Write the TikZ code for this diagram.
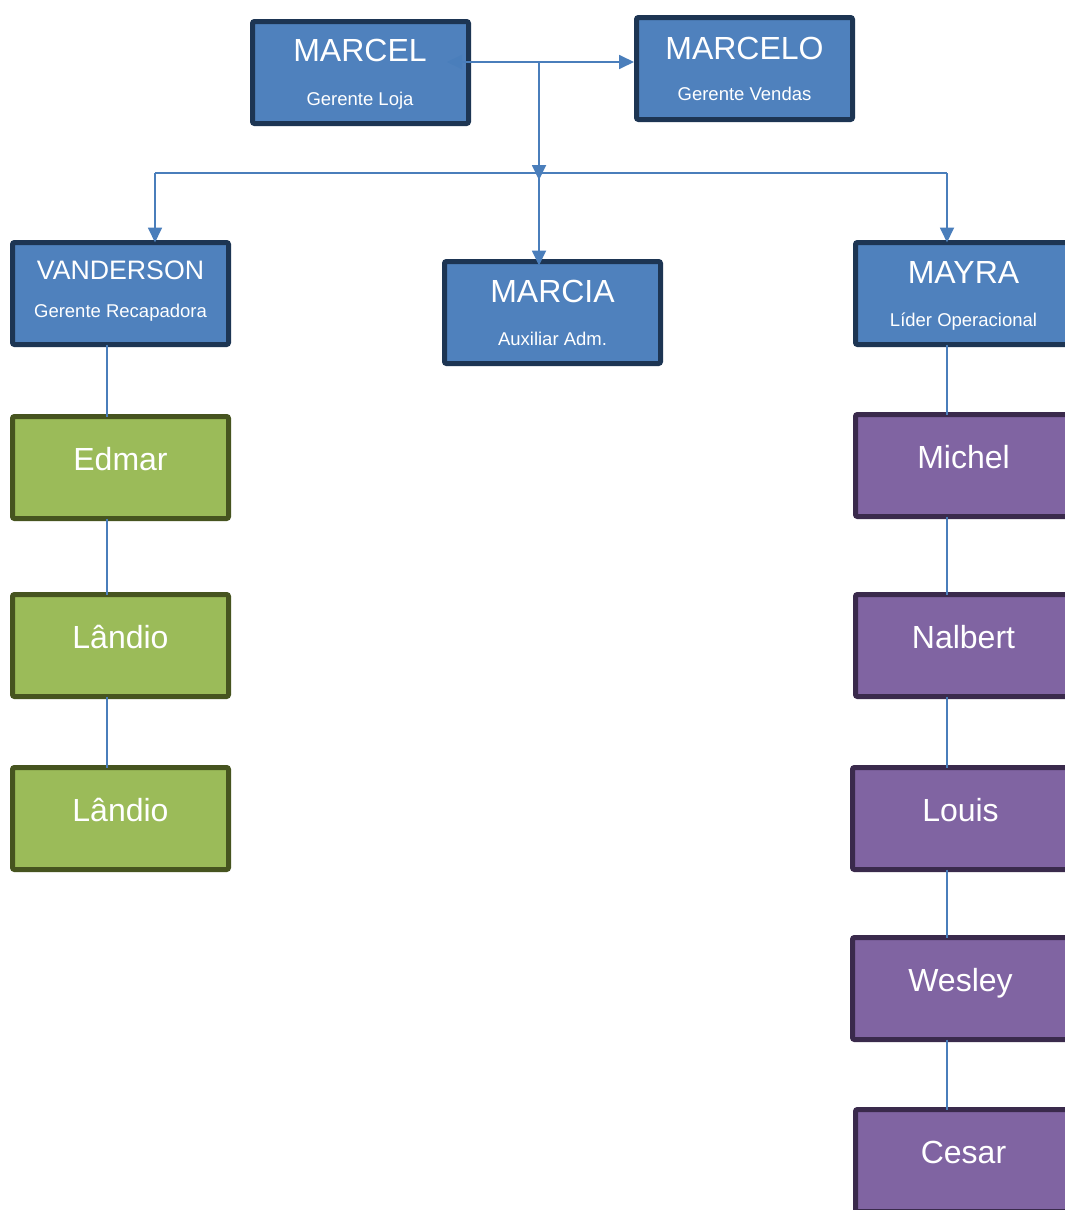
\documentclass[tikz,border=0pt]{standalone}
\usepackage{fontspec}
\setmainfont{Liberation Sans}
\usetikzlibrary{arrows.meta}
\definecolor{bfill}{HTML}{4F81BD}
\definecolor{bline}{HTML}{1D3553}
\definecolor{gfill}{HTML}{9BBB59}
\definecolor{gline}{HTML}{46541F}
\definecolor{pfill}{HTML}{8064A2}
\definecolor{pline}{HTML}{3A2A4C}
\definecolor{conn}{HTML}{4A7EBB}
\tikzset{
  box/.style={rectangle, rounded corners=2pt, line width=5pt, minimum width=216pt, minimum height=102pt, inner sep=0pt, outer sep=0pt, anchor=north west},
  bluebox/.style={box, fill=bfill, draw=bline},
  greenbox/.style={box, fill=gfill, draw=gline},
  purplebox/.style={box, fill=pfill, draw=pline},
  nametxt/.style={text=white, font=\fontsize{32}{36}\selectfont, anchor=base, inner sep=0pt},
  subtxt/.style={text=white, font=\fontsize{18.5}{22}\selectfont, anchor=base, inner sep=0pt},
  link/.style={draw=conn, line width=1.8pt},
  arr/.style={link, -{Triangle[length=15pt,width=14pt]}},
}
\begin{document}
\begin{tikzpicture}[x=1pt,y=-1pt]
\useasboundingbox (0,0) rectangle (1065,1210);
\clip (0,0) rectangle (1065,1210);
\fill[white] (0,0) rectangle (1065,1210);

% coordinates for connectors
\coordinate (lx) at (107,0);
\coordinate (rx) at (947,0);
\coordinate (j1) at (539,62);
\coordinate (mtip) at (447,62);
\coordinate (j2) at (539,173);
\coordinate (j2tip) at (539,180);
\coordinate (hl) at (155,173);
\coordinate (hr) at (947,173);

% boxes (top-left corner of the border line centre)
\node[bluebox] (marcel) at (252.5,21.5) {};
\node[bluebox] (marcelo) at (636.5,17.5) {};
\node[bluebox] (vanderson) at (12.5,242.5) {};
\node[bluebox] (marcia) at (444.5,261.5) {};
\node[bluebox] (mayra) at (855.5,242.5) {};
\node[greenbox] (edmar) at (12.5,416.5) {};
\node[greenbox] (landioA) at (12.5,594.5) {};
\node[greenbox] (landioB) at (12.5,767.5) {};
\node[purplebox] (michel) at (855.5,414.5) {};
\node[purplebox] (nalbert) at (855.5,594.5) {};
\node[purplebox] (louis) at (852.5,767.5) {};
\node[purplebox] (wesley) at (852.5,937.5) {};
\node[purplebox] (cesar) at (855.5,1109.5) {};

% vertical chains
\draw[link] (vanderson.south -| lx) -- (edmar.north -| lx);
\draw[link] (edmar.south -| lx) -- (landioA.north -| lx);
\draw[link] (landioA.south -| lx) -- (landioB.north -| lx);
\draw[link] (mayra.south -| rx) -- (michel.north -| rx);
\draw[link] (michel.south -| rx) -- (nalbert.north -| rx);
\draw[link] (nalbert.south -| rx) -- (louis.north -| rx);
\draw[link] (louis.south -| rx) -- (wesley.north -| rx);
\draw[link] (wesley.south -| rx) -- (cesar.north -| rx);

% texts
\node[nametxt] (marcelN) at (360,61.7) {MARCEL};
\node[subtxt] (marcelS) at (360,105) {Gerente Loja};
\node[nametxt] (marceloN) at (744.5,59) {MARCELO};
\node[subtxt] (marceloS) at (744.5,100.7) {Gerente Vendas};
\node[nametxt, font=\fontsize{26.7}{30}\selectfont] (vandersonN) at (120.5,279) {VANDERSON};
\node[subtxt] (vandersonS) at (120.5,317.7) {Gerente Recapadora};
\node[nametxt] (marciaN) at (552.5,302) {MARCIA};
\node[subtxt] (marciaS) at (552.5,345) {Auxiliar Adm.};
\node[nametxt] (mayraN) at (963.5,283) {MAYRA};
\node[subtxt] (mayraS) at (963.5,326) {Líder Operacional};
\node[nametxt] (edmarN) at (120.5,470) {Edmar};
\node[nametxt] (landioAN) at (120.5,648) {Lândio};
\node[nametxt] (landioBN) at (120.5,821) {Lândio};
\node[nametxt] (michelN) at (963.5,468) {Michel};
\node[nametxt] (nalbertN) at (963.5,648) {Nalbert};
\node[nametxt] (louisN) at (960.5,821) {Louis};
\node[nametxt] (wesleyN) at (960.5,991) {Wesley};
\node[nametxt] (cesarN) at (963.5,1163) {Cesar};

% top connectors
\draw[arr] (j1) -- (mtip);
\draw[arr, shorten >=2.5pt] (j1) -- (j1 -| marcelo.west);
\draw[arr] (j1) -- (j2tip);
\draw[link] (hl) -- (hr);
\draw[arr] (hl) -- (hl |- vanderson.north);
\draw[arr, shorten >=-4pt] (j2) -- (j2 |- marcia.north);
\draw[arr] (hr) -- (hr |- mayra.north);
\end{tikzpicture}
\end{document}
